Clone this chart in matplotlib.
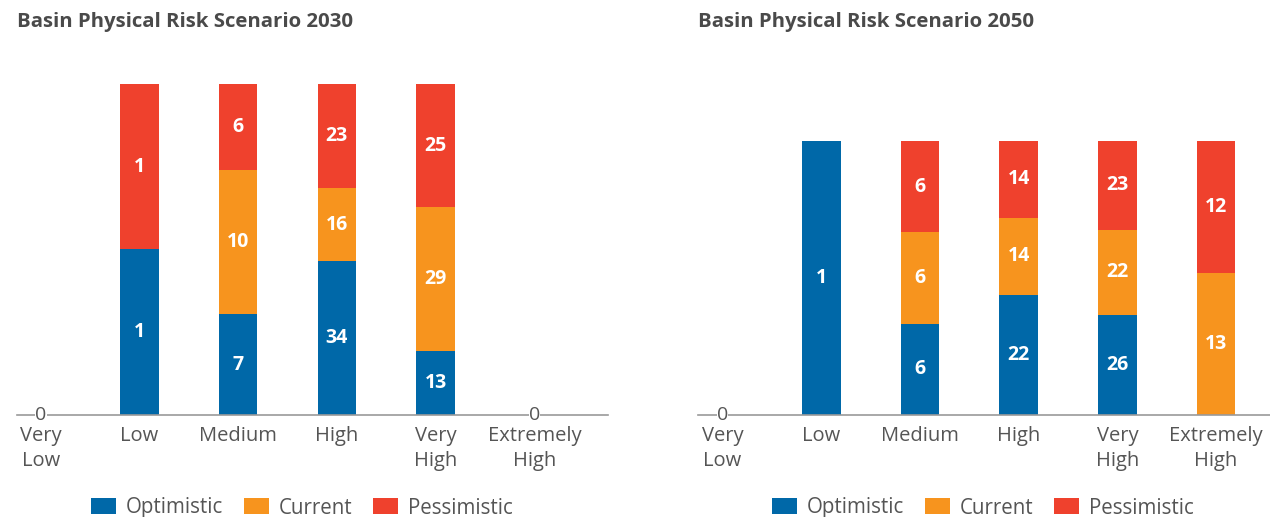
import matplotlib.pyplot as plt
import numpy as np
from matplotlib.patches import Patch

plt.rcParams["font.family"] = ["Open Sans", "DejaVu Sans"]

categories = ["Very\nLow", "Low", "Medium", "High", "Very\nHigh", "Extremely\nHigh"]
series = ["Optimistic", "Current", "Pessimistic"]
colors = ["#0068a8", "#f7941e", "#ef412d"]

# basin counts per risk level
optimistic_2030 = [0, 1, 7, 34, 13, 0]
current_2030 = [0, 0, 10, 16, 29, 0]
pessimistic_2030 = [0, 1, 6, 23, 25, 0]

optimistic_2050 = [0, 1, 6, 22, 26, 0]
current_2050 = [0, 0, 6, 14, 22, 13]
pessimistic_2050 = [0, 0, 6, 14, 23, 12]

TEXT = "#555555"

fig = plt.figure(figsize=(12.7, 5.17), dpi=100)
panels = [
    ("Basin Physical Risk Scenario 2030", [0.0134, 0.197, 0.4654, 0.687],
     [optimistic_2030, current_2030, pessimistic_2030], 1.072, (-0.240, 5.747), True),
    ("Basin Physical Risk Scenario 2050", [0.5496, 0.197, 0.4504, 0.687],
     [optimistic_2050, current_2050, pessimistic_2050], 1.296, (-0.249, 5.547), False),
]

for title, rect, counts, ytop, xlim, zero_right in panels:
    ax = fig.add_axes(rect)
    counts = np.array(counts, dtype=float)
    totals = counts.sum(axis=0)
    x = np.arange(len(categories))
    bottom = np.zeros(len(categories))
    for vals, color in zip(counts, colors):
        share = np.divide(vals, totals, out=np.zeros_like(vals), where=totals > 0)
        ax.bar(x, share, 0.39, bottom=bottom, color=color, zorder=2)
        for xi, v, b, s in zip(x, vals, bottom, share):
            if v > 0:
                ax.text(xi, b + s / 2, f"{int(v)}", ha="center", va="center",
                        color="white", fontsize=14, fontweight="bold", zorder=3)
        bottom += share

    # empty categories get a zero marker on the baseline
    for xi, t in zip(x, totals):
        if t == 0 and (xi == 0 or zero_right):
            ax.text(xi, 0, "0", ha="center", va="center", color=TEXT, fontsize=14,
                    zorder=4, bbox=dict(facecolor="white", edgecolor="none", pad=0.2))

    ax.set_xlim(*xlim)
    ax.set_ylim(0, ytop)
    ax.set_xticks(x, categories)
    ax.tick_params(axis="x", length=0, pad=8, labelsize=14.5, labelcolor=TEXT)
    for lab in ax.get_xticklabels():
        lab.set_linespacing(1.3)
    ax.set_yticks([])
    for side in ["top", "right", "left"]:
        ax.spines[side].set_visible(False)
    ax.spines["bottom"].set_color("#9a9a9a")
    ax.spines["bottom"].set_linewidth(1.2)

    fig.text(rect[0], 1 - 22 / 517, title, ha="left", va="center",
             fontsize=14.7, fontweight="bold", color="#4a4a4a")

handles = [Patch(facecolor=c, edgecolor="none") for c in colors]
for cx in [302 / 1270, 983 / 1270]:
    fig.legend(handles, series, loc="center", bbox_to_anchor=(cx, 9 / 517), ncol=3,
               frameon=False, fontsize=14.8, handlelength=1.2, handleheight=0.8,
               handletextpad=0.5, columnspacing=1.0, labelcolor=TEXT)

fig.savefig("out.png", dpi=100)
